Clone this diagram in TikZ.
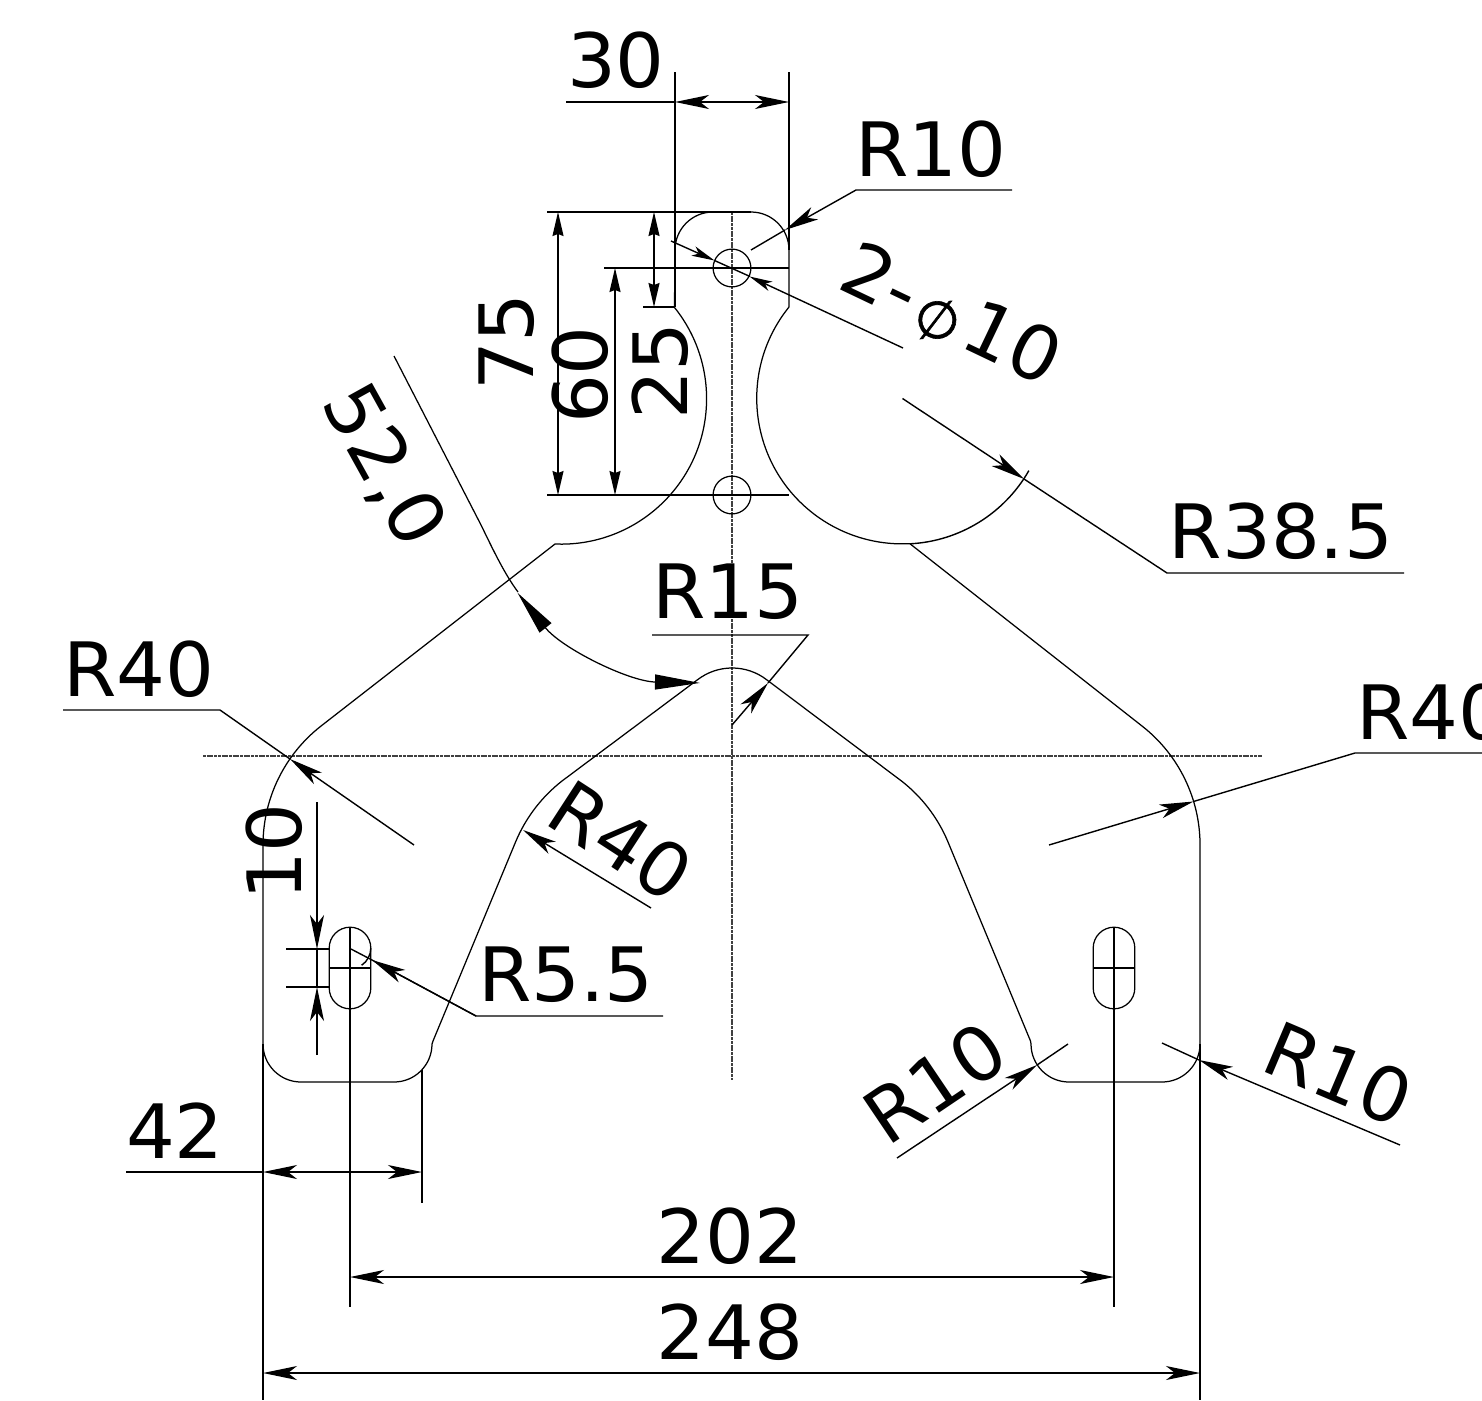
\documentclass[tikz,border=0pt]{standalone}
\usepackage{graphicx}
\usepackage{fontspec}
\setmainfont[FakeStretch=1.025]{DejaVu Sans}
\newfontfamily\phifont[FakeBold=1.2]{DejaVu Sans}
\usetikzlibrary{arrows.meta}
\tikzset{
  x=1pt,y=1pt,
  outline/.style={line width=1.25pt,line join=round},
  dimline/.style={line width=1.4pt},
  extline/.style={line width=1.15pt},
  center/.style={line width=1.2pt,black!75,dash pattern=on 3pt off 0.7pt},
  tipB/.tip={Stealth[length=34pt,width=14pt,inset=9pt]},
  tipP/.tip={Stealth[length=24pt,width=11pt,inset=2pt]},
  tipS/.tip={Stealth[length=23pt,width=10pt,inset=6pt]},
  tipL/.tip={Triangle[length=45pt,width=15pt]},
  lbl/.style={inner sep=0pt,font=\fontsize{75pt}{75pt}\selectfont}
}
\begin{document}
\begin{tikzpicture}
\useasboundingbox (0,-1400) rectangle (1482,0);
\clip (0,-1400) rectangle (1482,0);
% centre lines
\draw[center] (732,-212) -- (732,-1080);
\draw[center] (203,-756) -- (1262,-756);
% outline
\draw[outline] (751,-212) arc[start angle=90,end angle=0,radius=38pt]
 -- (789,-307) arc[start angle=141.1,end angle=273,radius=145.5pt]
 -- (1142,-726) arc[start angle=52,end angle=0,radius=151pt]
 -- (1200,-1044) arc[start angle=0,end angle=-90,radius=38pt]
 -- (1069,-1082) arc[start angle=270,end angle=180,radius=38pt]
 -- (1030.5,-1041) -- (948,-842) arc[start angle=22.6,end angle=52,radius=151pt]
 -- (767,-680) arc[start angle=52,end angle=128,radius=56.7pt]
 -- (562,-781) arc[start angle=128,end angle=157.4,radius=151pt]
 -- (433,-1041) -- (432,-1044) arc[start angle=0,end angle=-90,radius=38pt]
 -- (301,-1082) arc[start angle=270,end angle=180,radius=38pt]
 -- (263,-845) arc[start angle=180,end angle=128,radius=151pt]
 -- (555,-544) arc[start angle=267.6,end angle=398.8,radius=145.5pt]
 -- (675,-250) arc[start angle=180,end angle=90,radius=38pt] -- cycle;
% holes
\draw[outline] (732,-268) circle[radius=18.9pt];
\draw[outline] (732,-495) circle[radius=18.9pt];
% slots
\foreach \cx in {350,1114}{
  \draw[outline] (\cx-20.8,-948) arc[start angle=180,end angle=0,radius=20.8pt] -- (\cx+20.8,-988)
    arc[start angle=0,end angle=-180,radius=20.8pt] -- cycle;
  \draw[outline] (\cx-20.8,-968) -- (\cx+20.8,-968);
  \draw[dimline] (\cx,-928) -- (\cx,-1307);
}
% dim 30
\draw[dimline] (675,-72) -- (675,-307);
\draw[dimline] (789,-72) -- (789,-250);
\draw[dimline] (566,-102) -- (675,-102);
\draw[dimline,{tipB}-{tipB}] (675,-102) -- (789,-102);
\node[lbl] (t30) at (616,-60) {30};
% head extension lines
\draw[extline] (547,-212) -- (751,-212);
\draw[extline] (604,-268) -- (789,-268);
\draw[extline] (547,-495) -- (789,-495);
\draw[extline] (643,-307) -- (675,-307);
\draw[dimline,{tipP}-{tipP}] (558,-212) -- (558,-495);
\draw[dimline,{tipP}-{tipP}] (615,-268) -- (615,-495);
\draw[dimline,{tipP}-{tipP}] (654,-212) -- (654,-307);
\node[lbl,rotate=90] (t75) at (507,-342) {75};
\node[lbl,rotate=90] (t60) at (580,-375) {60};
\node[lbl,rotate=90] (t25) at (660,-371) {25};
% R10 top
\draw[dimline] (751,-250) -- (785,-230);
\draw[dimline,-{tipB}] (1012,-190) -- (856,-190) -- (785,-230);
\node[lbl] (tr10a) at (931,-149) {R10};
% 2-phi10
\draw[dimline,-{tipS}] (671,-241) -- (714.5,-260.5);
\draw[dimline] (714.5,-260.5) -- (750,-276.5);
\draw[dimline,-{tipS}] (903,-348) -- (749.5,-276.5);
\node[lbl,rotate=-25.5] (tphi) at (950,-318) {2-\hspace{0.5pt}\raisebox{-4pt}{\rotatebox[origin=c]{27}{\fontsize{52pt}{52pt}\phifont ∅}}\hspace{0.5pt}10};
% R38.5
\draw[dimline] (1404,-573) -- (1167,-573) -- (1024,-479);
\draw[dimline,-{tipB}] (902.5,-398.5) -- (1024,-479);
\draw[dimline] (902.5,-398.5) ++(273:145.5pt) arc[start angle=273,end angle=330.3,radius=145.5pt];
\node[lbl] (tr385) at (1281,-531) {R38.5};
% angle 52,0
\coordinate (angc) at (705,-443);
\draw[outline] (394,-356) -- (480,-523) .. controls (490,-543) and (503,-572) .. (518,-592);
\draw[outline,{tipL}-{tipL}] (angc) ++(218.6:240pt) arc[start angle=218.6,end angle=268.8,radius=240pt];
\node[lbl,rotate=-61] (t52) at (383,-466) {52,0};
% R15
\draw[dimline] (652,-635) -- (808,-635) -- (768,-683);
\draw[dimline,-{tipB}] (732,-725) -- (768,-683);
\node[lbl] (tr15) at (728,-592) {R15};
% R40 left
\draw[dimline] (63,-710) -- (220,-710) -- (290,-759);
\draw[dimline,-{tipB}] (414,-845) -- (290,-759);
\node[lbl] (tr40a) at (139,-669) {R40};
% R40 right
\draw[dimline] (1482,-753) -- (1355,-753) -- (1193.5,-801.5);
\draw[dimline,-{tipB}] (1049,-845) -- (1193.5,-801.5);
\node[lbl,anchor=west] (tr40b) at (1356,-712) {R40};
% R40 middle
\draw[dimline,-{tipB}] (651,-908) -- (523,-830);
\node[lbl,rotate=-33] (tr40c) at (621,-841) {R40};
% dim 10
\draw[dimline] (286,-949) -- (329,-949);
\draw[dimline] (286,-987) -- (329,-987);
\draw[dimline,-{tipB}] (317,-802) -- (317,-949);
\draw[dimline] (317,-949) -- (317,-987);
\draw[dimline,-{tipB}] (317,-1055) -- (317,-987);
\node[lbl,rotate=90] (t10) at (274,-852) {10};
% R5.5
\draw[dimline] (663,-1016) -- (476,-1016) -- (372,-960);
\draw[dimline] (372,-960) -- (351,-949);
\draw[dimline,-{tipB}] (476,-1016) -- (372,-960);
\draw[dimline] (350,-948) ++(0:20.8pt) arc[start angle=0,end angle=-56,radius=20.8pt];
\node[lbl] (tr55) at (566,-975) {R5.5};
% R10 lower
\draw[dimline] (1068,-1044) -- (1037,-1065);
\draw[dimline,-{tipB}] (897,-1158) -- (1037,-1065);
\node[lbl,rotate=34] (tr10b) at (935,-1083) {R10};
\draw[dimline] (1162,-1043) -- (1199,-1060);
\draw[dimline,-{tipB}] (1400,-1145) -- (1199,-1060);
\node[lbl,rotate=-23] (tr10c) at (1339,-1074) {R10};
% 42
\draw[dimline] (263,-1044) -- (263,-1400);
\draw[dimline] (1200,-1044) -- (1200,-1400);
\draw[dimline] (422,-1070) -- (422,-1203);
\draw[dimline] (126,-1172) -- (263,-1172);
\draw[dimline,{tipB}-{tipB}] (263,-1172) -- (422,-1172);
\node[lbl] (t42) at (175,-1131) {42};
% 202, 248
\draw[dimline,{tipB}-{tipB}] (350,-1277) -- (1114,-1277);
\node[lbl] (t202) at (730,-1236) {202};
\draw[dimline,{tipB}-{tipB}] (263,-1373) -- (1200,-1373);
\node[lbl] (t248) at (730,-1332) {248};
\end{tikzpicture}
\end{document}
